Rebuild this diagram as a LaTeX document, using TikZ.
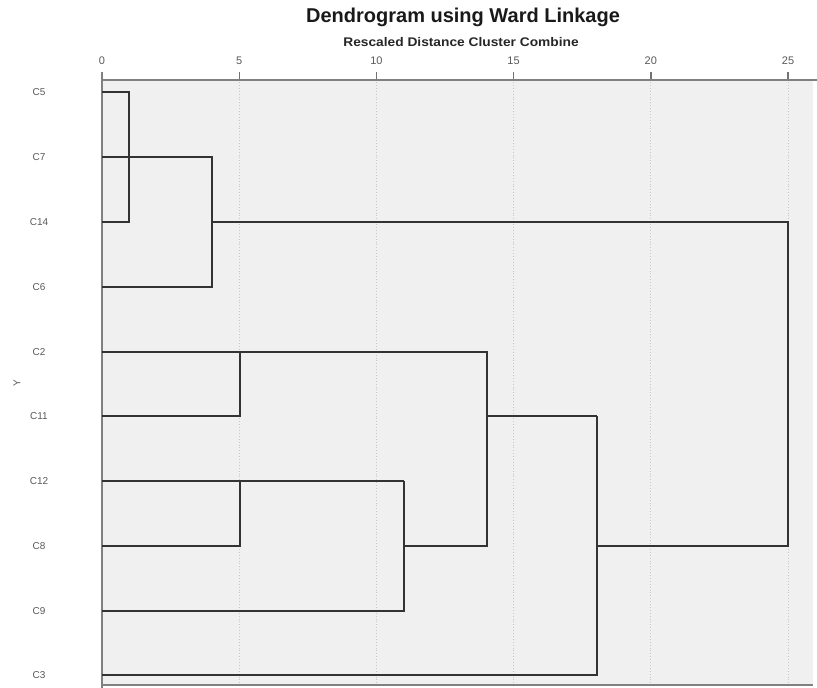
\documentclass[tikz,border=0pt]{standalone}
\usepackage{fontspec}
\setmainfont{Liberation Sans}
\begin{document}
\begin{tikzpicture}[x=1pt,y=-1pt,
  frameline/.style={draw=black!50,line width=2.2pt},
  gridline/.style={draw=black!22,dotted,line width=0.9pt},
  tickmark/.style={draw=black!55,line width=1.4pt},
  link/.style={draw=black!80,line width=1.5pt},
  ticklabel/.style={font=\fontsize{11}{12}\selectfont,text=black!65,inner sep=0pt},
  leaflabel/.style={font=\fontsize{10}{12}\selectfont,text=black!65,inner sep=0pt}]
\useasboundingbox (0,0) rectangle (817,688);

% plot area
\fill[black!6] (102,80) rectangle (813,685);
\foreach \d in {5,10,15,20,25}
  \draw[gridline] ({102+27.44*\d},82) -- ({102+27.44*\d},684);

% titles
\node[font=\bfseries\fontsize{20}{22}\selectfont,inner sep=0pt,text=black!90] (title) at (463,17) {Dendrogram using Ward Linkage};
\node[font=\bfseries\fontsize{12.5}{14}\selectfont,inner sep=0pt,text=black!85,xscale=1.1] (subtitle) at (461,42) {Rescaled Distance Cluster Combine};

% distance scale
\foreach \d in {0,5,10,15,20,25} {
  \draw[tickmark] ({102+27.44*\d},72) -- ({102+27.44*\d},80);
  \node[ticklabel] (t\d) at ({102+27.44*\d},61) {\d};
}

% frame
\draw[frameline] (102,80) -- (817,80);
\draw[frameline] (102,685) -- (813,685);
\draw[frameline] (102,72) -- (102,688);

% axis title
\node[leaflabel,rotate=90] (ylab) at (17,383) {Y};

% leaves
\foreach \n/\y in {C5/92,C7/157,C14/222,C6/287,C2/352,C11/416,C12/481,C8/546,C9/611,C3/675} {
  \node[leaflabel] (n\n) at (39,\y) {\n};
  \coordinate (l\n) at (102,\y);
}

% merge points
\coordinate (k1) at (129,222);
\coordinate (k2) at (212,287);
\coordinate (k2m) at (212,222);
\coordinate (k3t) at (240,352);
\coordinate (k4t) at (240,481);
\coordinate (k5t) at (404,481);
\coordinate (k5m) at (404,546);
\coordinate (k6t) at (487,352);
\coordinate (k6b) at (487,546);
\coordinate (k6m) at (487,416);
\coordinate (k8t) at (597,416);
\coordinate (k8m) at (597,546);
\coordinate (k9t) at (788,222);
\coordinate (k9b) at (788,546);

% dendrogram links
\draw[link] (lC5) -| (k1) -- (lC14);
\draw[link] (lC7) -| (k2) -- (lC6);
\draw[link] (k2m) -- (k9t) -- (k9b) -- (k8m);
\draw[link] (lC2) -- (k6t) -- (k6b) -- (k5m);
\draw[link] (lC11) -| (k3t);
\draw[link] (lC12) -- (k5t);
\draw[link] (lC8) -| (k4t);
\draw[link] (lC9) -| (k5t);
\draw[link] (k6m) -- (k8t);
\draw[link] (lC3) -| (k8t);
\end{tikzpicture}
\end{document}
